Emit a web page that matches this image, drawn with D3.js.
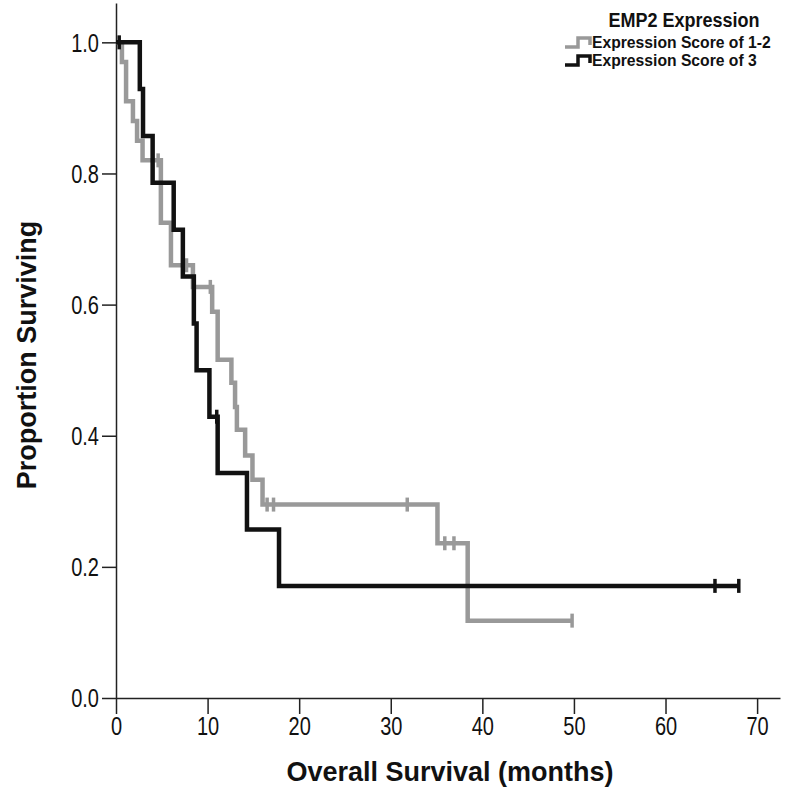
<!DOCTYPE html>
<html>
<head>
<meta charset="utf-8">
<script src="https://cdn.jsdelivr.net/npm/d3@7"></script>
<style>
  body { margin: 0; background: #fff; }
  svg { display: block; font-family: "Liberation Sans", Arial, sans-serif; }
</style>
</head>
<body>
<svg width="791" height="790"></svg>
<script>
// Группа "Expression Score of 1-2": моменты смерти (мес.) и выживаемость после шага
const lowTimes = [0, 0.65, 1.1, 1.85, 2.3, 2.9, 4.9, 6.0, 8.4, 10.5, 11.1, 12.6, 13.0, 13.2, 14.1, 14.9, 16.0, 35.1, 38.4];
const lowSurv  = [1.0, 0.97, 0.91, 0.88, 0.85, 0.82, 0.725, 0.66, 0.627, 0.589, 0.516, 0.481, 0.444, 0.409, 0.37, 0.333, 0.295, 0.236, 0.118];
const lowCensor = [4.6, 7.7, 10.3, 16.5, 17.2, 31.8, 35.9, 36.9, 49.8];

// Группа "Expression Score of 3"
const highTimes = [0, 2.6, 2.95, 4.0, 6.3, 7.3, 8.5, 8.8, 10.2, 11.1, 14.3, 17.8];
const highSurv  = [1.0, 0.929, 0.857, 0.786, 0.714, 0.643, 0.571, 0.5, 0.429, 0.343, 0.257, 0.171];
const highCensor = [0.35, 11.0, 65.4, 68.0];

const xTicks = [0, 10, 20, 30, 40, 50, 60, 70];
const yTicks = [0, 0.2, 0.4, 0.6, 0.8, 1.0];

const legendTitle = "EMP2 Expression";
const groupNames = ["Expression Score of 1-2", "Expression Score of 3"];
const colors = ["#999999", "#111111"];

const svg = d3.select("svg");

const scX = d3.scaleLinear().domain([0, 72.5]).range([116, 780]);
const scY = d3.scaleLinear().domain([0, 1.06]).range([698, 3]);

// Сжатие текста по ширине (имитация узкого шрифта)
function condense(sel, k) {
    sel.each(function() {
        const w = this.getComputedTextLength();
        d3.select(this).attr("textLength", w * k).attr("lengthAdjust", "spacingAndGlyphs");
    });
}

// Оси
const axX = svg.append("g")
    .attr("transform", `translate(0, ${scY(0)})`)
    .call(d3.axisBottom(scX).tickValues(xTicks).tickSize(16).tickSizeOuter(0).tickPadding(3));
const axY = svg.append("g")
    .attr("transform", `translate(${scX(0)}, 0)`)
    .call(d3.axisLeft(scY).tickValues(yTicks).tickFormat(d3.format(".1f")).tickSize(14).tickSizeOuter(0).tickPadding(3));

[axX, axY].forEach(g => {
    g.select(".domain").attr("stroke", "#222").attr("stroke-width", 1.5);
    g.selectAll(".tick line").attr("stroke", "#222").attr("stroke-width", 1.5);
    g.selectAll(".tick text")
        .attr("fill", "#111")
        .style("font-size", "25px")
        .call(condense, 0.8);
});
axY.selectAll(".tick text").attr("dy", "0.35em");

// Подписи осей
svg.append("text")
    .attr("x", 450).attr("y", 781)
    .attr("text-anchor", "middle")
    .style("font-size", "27px").style("font-weight", "bold")
    .attr("fill", "#111")
    .text("Overall Survival (months)");

svg.append("text")
    .attr("transform", "translate(36, 355) rotate(-90)")
    .attr("text-anchor", "middle")
    .style("font-size", "27px").style("font-weight", "bold")
    .attr("fill", "#111")
    .text("Proportion Surviving");

// Функция возвращает выживаемость в момент t
function survAt(times, surv, t) {
    let s = surv[0];
    for (let i = 0; i < times.length; i++) {
        if (times[i] <= t) s = surv[i];
    }
    return s;
}

// Функция рисует ступенчатую кривую Каплана-Мейера с отметками цензурирования
function drawCurve(times, surv, censor, color, width) {
    const pts = times.map((t, i) => [t, surv[i]]);
    const tEnd = d3.max(censor);
    pts.push([tEnd, survAt(times, surv, tEnd)]);

    const line = d3.line()
        .x(d => scX(d[0]))
        .y(d => scY(d[1]))
        .curve(d3.curveStepAfter);

    svg.append("path")
        .datum(pts)
        .attr("fill", "none")
        .attr("stroke", color)
        .attr("stroke-width", width)
        .attr("stroke-linejoin", "miter")
        .attr("d", line);

    svg.selectAll(null)
        .data(censor)
        .enter()
        .append("line")
        .attr("x1", d => scX(d))
        .attr("x2", d => scX(d))
        .attr("y1", d => scY(survAt(times, surv, d)) - 7)
        .attr("y2", d => scY(survAt(times, surv, d)) + 7)
        .attr("stroke", color)
        .attr("stroke-width", 3.5);
}

drawCurve(lowTimes, lowSurv, lowCensor, colors[0], 4.5);
drawCurve(highTimes, highSurv, highCensor, colors[1], 4.5);

// Легенда
svg.append("text")
    .attr("x", 684).attr("y", 27)
    .attr("text-anchor", "middle")
    .style("font-size", "20px").style("font-weight", "bold")
    .attr("fill", "#111")
    .text(legendTitle)
    .call(condense, 0.9);

groupNames.forEach((name, i) => {
    const y0 = 47 + i * 18;
    svg.append("path")
        .attr("d", `M565,${y0} H578 V${y0 - 9} H590 V${y0 - 2}`)
        .attr("fill", "none")
        .attr("stroke", colors[i])
        .attr("stroke-width", 3.5);
    svg.append("text")
        .attr("x", 592).attr("y", y0 + 1)
        .style("font-size", "16px").style("font-weight", "bold")
        .attr("fill", "#111")
        .text(name)
        .call(condense, 0.98);
});
</script>
</body>
</html>
